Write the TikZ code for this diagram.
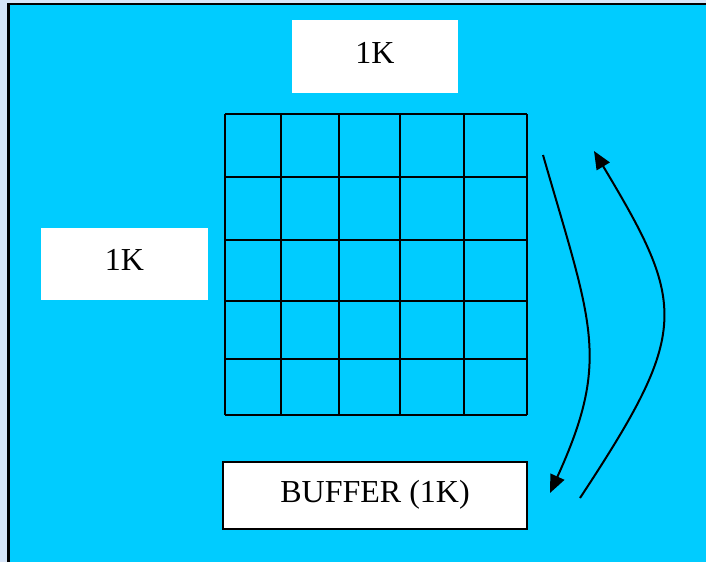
\documentclass[tikz,border=0pt]{standalone}
\usepackage{fontspec}
\setmainfont{Liberation Serif}
\usetikzlibrary{arrows.meta}
\definecolor{slide}{HTML}{00CCFF}
\definecolor{paper}{HTML}{D6E5F8}
\tikzset{
  label box/.style={fill=white, inner sep=0pt, text height=22pt, text depth=9pt,
    font=\fontsize{32}{37}\selectfont},
  grid line/.style={line width=2.2pt},
  flow/.style={line width=2pt, -{Triangle[length=18pt,width=15pt]}}
}
\begin{document}
\begin{tikzpicture}[x=1pt,y=-1pt]
  \useasboundingbox (0,0) rectangle (706,562);
  \fill[paper] (0,0) rectangle (706,562);
  \fill[slide] (8.5,4) rectangle (706,562);
  \draw[line width=2.5pt] (8.5,562) -- (8.5,4) -- (706,4);
  % block of memory
  \foreach \x in {225,281,339,400,464,527}
    \draw[grid line] (\x,114) -- (\x,415);
  \foreach \y in {114,177,240,301,359,415}
    \draw[grid line] (225,\y) -- (527,\y);
  \node[label box, minimum width=166pt, minimum height=73pt] (cols) at (375,56.5) {1K};
  \node[label box, minimum width=167pt, minimum height=72pt] (rows) at (124.5,264) {1K};
  \node[label box, draw, line width=2pt, minimum width=304pt, minimum height=67pt]
    (buffer) at (375,495.5) {BUFFER (1K)};
  % transfers to and from the buffer
  \coordinate (out) at (543,155);
  \coordinate (in) at (550,493);
  \coordinate (back) at (580,498);
  \coordinate (up) at (594,151);
  \draw[flow] (out) .. controls (592,325) and (611,359) .. (in);
  \draw[flow] (back) .. controls (690,331) and (687,306) .. (up);
\end{tikzpicture}
\end{document}
